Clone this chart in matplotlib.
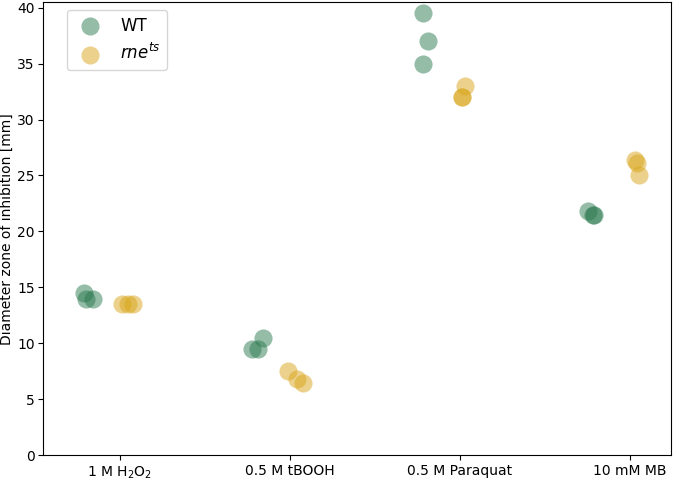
import matplotlib
matplotlib.use("Agg")
import matplotlib.pyplot as plt
import numpy as np

# %%
conditions = ["1 M H$_2$O$_2$", "0.5 M tBOOH", "0.5 M Paraquat", "10 mM MB"]

# x positions of each replicate (in axis units) and measured zone diameters
wt_x = [-0.21, -0.20, -0.16, 0.84, 0.78, 0.81, 1.78, 1.81, 1.78, 2.75, 2.79, 2.78]
wt_y = [14.5, 14.0, 14.0, 10.5, 9.5, 9.5, 39.5, 37.0, 35.0, 21.8, 21.5, 21.5]

rne_x = [0.01, 0.05, 0.08, 0.99, 1.04, 1.08, 2.03, 2.01, 2.01, 3.03, 3.04, 3.05]
rne_y = [13.5, 13.5, 13.5, 7.5, 6.8, 6.5, 33.0, 32.0, 32.0, 26.4, 26.1, 25.0]

wt_col = "#2b7a4f"
rne_col = "#d9a51a"

plt.rcParams.update({"font.size": 10, "xtick.major.size": 3.3, "ytick.major.size": 3.3,
                     "xtick.major.pad": 3.0, "ytick.major.pad": 2.5})

# %%
fig, ax = plt.subplots(figsize=(6.79, 4.86), dpi=100)
ax.scatter(wt_x, wt_y, s=170, color=wt_col, alpha=0.5, lw=0, label="WT")
ax.scatter(rne_x, rne_y, s=170, color=rne_col, alpha=0.5, lw=0, label="$rne^{ts}$")

ax.set_xticks(range(len(conditions)))
ax.set_xticklabels(conditions)
ax.set_xlim(-0.453, 3.24)
ax.set_ylim(0, 40.5)
ax.set_ylabel("Diameter zone of inhibition [mm]", labelpad=2)
ax.legend(loc="upper left", fontsize=12, bbox_to_anchor=(0.038, 0.982), borderaxespad=0)

fig.subplots_adjust(left=0.063, right=0.988, top=0.996, bottom=0.063)
fig.savefig("out.png")
